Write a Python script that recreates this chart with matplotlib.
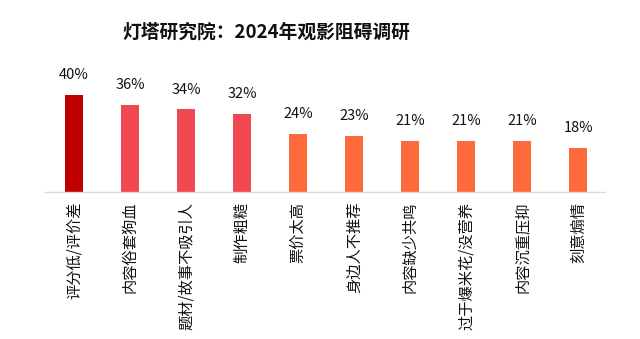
import matplotlib
matplotlib.use('Agg')
import matplotlib.pyplot as plt

plt.rcParams['font.family'] = ['Noto Sans CJK SC', 'DejaVu Sans']

# data
categories = ['评分低/评价差', '内容俗套狗血', '题材/故事不吸引人', '制作粗糙', '票价太高',
              '身边人不推荐', '内容缺少共鸣', '过于爆米花/没营养', '内容沉重压抑', '刻意煽情']
values = [40, 36, 34, 32, 24, 23, 21, 21, 21, 18]
colors = ['#C00000', '#F04850', '#F04850', '#F04850', '#FF6A3D',
          '#FF6A3D', '#FF6A3D', '#FF6A3D', '#FF6A3D', '#FF6A3D']

W, H = 640, 339
fig = plt.figure(figsize=(W / 100, H / 100), dpi=100)
ax = fig.add_axes([45 / W, (H - 192) / H, 560 / W, 132 / H])

x = range(len(categories))
ax.bar(x, values, width=0.32, color=colors)
for i, v in enumerate(values):
    ax.text(i, v + 8.2, f'{v}%', ha='center', va='center', fontsize=10.5, color='#111111')

ax.set_xlim(-0.52, 9.48)
ax.set_ylim(0, 54.4)
ax.set_yticks([])
ax.set_xticks(list(x))
ax.set_xticklabels(categories, rotation=90, fontsize=11, color='#111111')
ax.tick_params(axis='x', length=0, pad=7)
for s in ['top', 'right', 'left']:
    ax.spines[s].set_visible(False)
ax.spines['bottom'].set_color('#D9D9D9')
ax.spines['bottom'].set_linewidth(1)

fig.text(266 / W, 1 - 32 / H, '灯塔研究院：2024年观影阻碍调研', ha='center', va='center',
         fontsize=13.5, fontweight='bold', color='#111111')

fig.savefig('out.png', dpi=100)
